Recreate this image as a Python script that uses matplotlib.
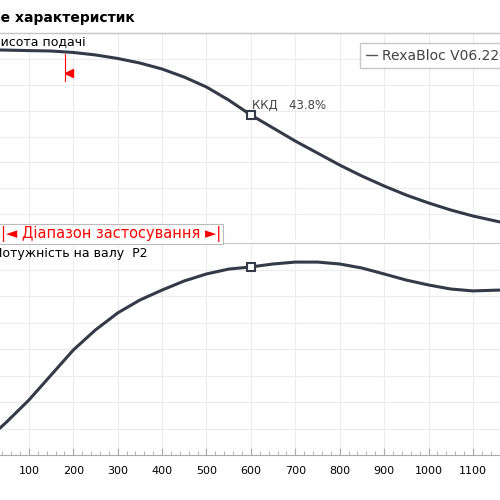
import matplotlib.pyplot as plt
from matplotlib.ticker import MultipleLocator

# readings
flow = [35, 100, 150, 200, 250, 300, 350, 400, 450, 500, 550, 600, 650, 700,
        750, 800, 850, 900, 950, 1000, 1050, 1100, 1161]
head = [91.8, 91.5, 91.3, 90.6, 89.4, 87.7, 85.5, 82.6, 78.7, 73.9, 67.6, 60.4,
        54.1, 47.8, 42.0, 36.2, 30.9, 26.1, 21.7, 17.9, 14.5, 11.6, 8.7]
p_flow = [35, 50, 100, 150, 200, 250, 300, 350, 400, 450, 500, 550, 600, 650,
          700, 750, 800, 850, 900, 950, 1000, 1050, 1100, 1161]
power = [12.7, 15.6, 25.9, 37.7, 49.5, 59.0, 67.0, 73.1, 77.8, 82.1, 85.4, 87.7,
         88.7, 90.1, 91.0, 91.0, 90.1, 88.2, 85.4, 82.5, 80.2, 78.3, 77.4, 77.8]
duty_q = 600
duty_h = 60.4
duty_p = 88.7
eff_text = "ККД   43.8%"
range_lo = 181
xticks = [100, 200, 300, 400, 500, 600, 700, 800, 900, 1000, 1100]

W = 500
fig = plt.figure(figsize=(5, 5), dpi=100)
ax1 = fig.add_axes([0, 1 - 240 / W, 1, 207 / W])
ax2 = fig.add_axes([0, 1 - 455 / W, 1, 212 / W])
line_c = "#343a48"
grid_c = "#ececec"

for ax in (ax1, ax2):
    ax.set_xlim(35, 1161)
    ax.set_ylim(0, 100)
    ax.xaxis.set_major_locator(MultipleLocator(100))
    ax.yaxis.set_major_locator(MultipleLocator(12.5))
    ax.grid(True, color=grid_c, lw=0.8)
    for s in ("left", "right", "bottom"):
        ax.spines[s].set_visible(False)
    ax.spines["top"].set_color("#c8c8c8")
    ax.tick_params(left=False, labelleft=False)

ax1.tick_params(bottom=False, labelbottom=False)
ax1.plot(flow, head, color=line_c, lw=2.2, solid_capstyle="round")
ax1.plot([duty_q], [duty_h], marker="s", ms=6, mfc="white", mec=line_c, mew=1.5)
ax1.text(duty_q + 2, duty_h + 3, eff_text, fontsize=8.5, color="#444")
ax1.plot([range_lo, range_lo], [77, 90], color="red", lw=0.8)
ax1.plot([range_lo + 10], [80.5], marker="<", color="red", ms=6)
leg = ax1.legend(["RexaBloc V06.22-..."], loc="upper right", fontsize=10,
                 handlelength=0.8, handletextpad=0.4, fancybox=False,
                 edgecolor="#bbb", bbox_to_anchor=(1.06, 0.985))
leg.get_lines()[0].set_linewidth(1)
leg.get_lines()[0].set_color("#555")
leg.get_texts()[0].set_color("#444")

ax2.plot(p_flow, power, color=line_c, lw=2.2, solid_capstyle="round")
ax2.plot([duty_q], [duty_p], marker="s", ms=6, mfc="white", mec=line_c, mew=1.5)
ax2.set_xticks(xticks)
ax2.xaxis.set_minor_locator(MultipleLocator(20))
ax2.tick_params(axis="x", which="both", direction="in", color="#aaa", labelsize=8,
                pad=8, length=5)
ax2.tick_params(axis="x", which="minor", length=3)
ax2.spines["bottom"].set_visible(True)
ax2.spines["bottom"].set_color("#aaa")
ax2.spines["top"].set_visible(False)
fig.add_artist(plt.Line2D([0, 1], [1 - 243 / W, 1 - 243 / W], color="#c8c8c8", lw=0.8))
fig.add_artist(plt.Line2D([0, 1], [1 - 33 / W, 1 - 33 / W], color="#c8c8c8", lw=1))

fig.text(135 / W, 1 - 18 / W, "Графічне характеристик", ha="right", va="center",
         fontsize=10, fontweight="bold")
fig.text(-8 / W, 1 - 42 / W, "Висота подачі", ha="left", va="center", fontsize=9)
fig.text(-7 / W, 1 - 253 / W, "Потужність на валу  P2", ha="left", va="center", fontsize=9)

# application range box
fig.text(1 / W, 1 - 234 / W, "|◄ Діапазон застосування ►|", ha="left", va="center",
         fontsize=10.5, color="red",
         bbox=dict(boxstyle="square,pad=0.15", fc="white", ec="#bbb", lw=0.8))

fig.savefig("out.png", dpi=100)
